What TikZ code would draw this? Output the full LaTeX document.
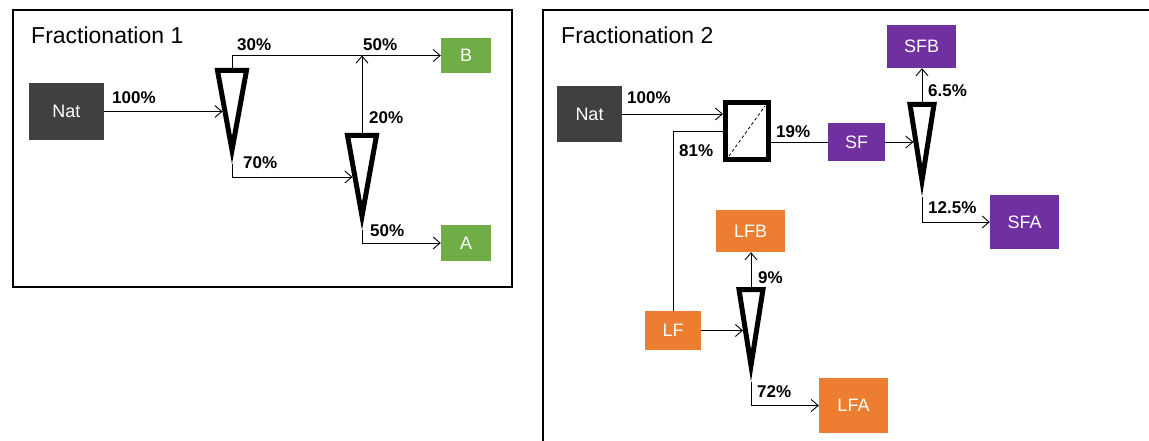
\documentclass[tikz,border=0pt]{standalone}
\usepackage{fontspec}
\setmainfont{Liberation Sans}
\usetikzlibrary{arrows.meta,calc}
\definecolor{natgray}{HTML}{404040}
\definecolor{fgreen}{HTML}{70AD47}
\definecolor{fpurple}{HTML}{7030A0}
\definecolor{forange}{HTML}{ED7D31}
\tikzset{
  box/.style={fill=#1, text=white, inner sep=0pt, font=\fontsize{18}{18}\selectfont},
  pct/.style={anchor=base west, inner sep=0pt, font=\fontsize{17}{17}\selectfont\bfseries},
  ttl/.style={anchor=base west, inner sep=0pt, font=\fontsize{23}{23}\selectfont},
  arr/.style={line width=0.9pt, -{Straight Barb[length=7pt,width=12pt,line width=0.9pt]}},
  ln/.style={line width=0.9pt},
  tri/.style={line width=5pt, line join=miter},
  frame/.style={line width=2pt}
}
\begin{document}
\begin{tikzpicture}[x=1pt,y=-1pt]
\useasboundingbox (0,0) rectangle (1149,441);
% frames
\draw[frame] (13,10) rectangle (512,287);
\draw[frame] (543,441) -- (543,10) -- (1150,10);
\node[ttl] (t1) at (31,44) {Fractionation 1};
\node[ttl] (t2) at (561,44) {Fractionation 2};

% ---------- Fractionation 1 ----------
\node[box=natgray, minimum width=75pt, minimum height=57pt] (nat1) at (66.5,111.5) {Nat};
\node[box=fgreen, minimum width=50pt, minimum height=35pt] (B) at (466,55.5) {B};
\node[box=fgreen, minimum width=50pt, minimum height=36pt] (A) at (466,243) {A};

\draw[tri] (217.5,70.5) -- (246.5,70.5) -- (232,150) -- cycle;
\coordinate (T1-top) at (232,68);
\coordinate (T1-tip) at (232,164);
\coordinate (T1-in) at (222.5,111.5);
\draw[tri] (347.5,135.5) -- (376.5,135.5) -- (362,216) -- cycle;
\coordinate (T2-top) at (362,133);
\coordinate (T2-tip) at (362,230);
\coordinate (T2-in) at (352.5,177);

\draw[arr] (nat1.east) -- (nat1.east -| T1-in);
\draw[arr] (T1-top) |- (B.west);
\draw[arr] (T2-top) -- (T2-top |- B.west);
\draw[arr] (T1-tip) |- (T2-in);
\draw[arr] (T2-tip) |- (A.west);

\node[pct] (p100a) at (112,104) {100\%};
\node[pct] (p30) at (237,51) {30\%};
\node[pct] (p50a) at (363,51) {50\%};
\node[pct] (p20) at (369,124) {20\%};
\node[pct] (p70) at (243,168) {70\%};
\node[pct] (p50b) at (370,236) {50\%};

% ---------- Fractionation 2 ----------
\node[box=natgray, minimum width=65pt, minimum height=56pt] (nat2) at (589.5,114) {Nat};
\node[draw, line width=5pt, inner sep=0pt, minimum width=43pt, minimum height=57pt] (mem) at (747,131) {};
\draw[line width=0.8pt, dash pattern=on 3pt off 2.5pt] ($(mem.south west)+(6,-6)$) -- ($(mem.north east)+(-6,6)$);
\node[box=fpurple, minimum width=57pt, minimum height=38pt] (SF) at (856.5,142) {SF};
\node[box=fpurple, minimum width=69pt, minimum height=43pt] (SFB) at (921.5,46.5) {SFB};
\node[box=fpurple, minimum width=69pt, minimum height=54pt] (SFA) at (1024.5,222) {SFA};
\node[box=forange, minimum width=56pt, minimum height=39pt] (LF) at (673,330.5) {LF};
\node[box=forange, minimum width=69pt, minimum height=42pt] (LFB) at (750.5,231) {LFB};
\node[box=forange, minimum width=69pt, minimum height=55pt] (LFA) at (853.5,405.5) {LFA};

\draw[tri] (910,104.5) -- (934,104.5) -- (922,180.5) -- cycle;
\coordinate (T3-top) at (922,102);
\coordinate (T3-tip) at (922,197);
\coordinate (T3-in) at (913.4,142);
\draw[tri] (739,289.5) -- (763,289.5) -- (751,365.5) -- cycle;
\coordinate (T4-top) at (751,287);
\coordinate (T4-tip) at (751,381.5);
\coordinate (T4-in) at (743,330.5);

\draw[arr] (nat2.east) -- (nat2.east -| mem.west);
\draw[ln] (mem.west) -| (LF.north);
\draw[ln] (mem.east |- SF.west) -- (SF.west);
\draw[arr] (SF.east) -- (SF.east -| T3-in);
\draw[arr] (T3-top) -- (T3-top |- SFB.south);
\draw[arr] (T3-tip) |- (SFA.west);
\draw[arr] (LF.east) -- (LF.east -| T4-in);
\draw[arr] (T4-top) -- (T4-top |- LFB.south);
\draw[arr] (T4-tip) |- (LFA.west);

\node[pct] (p100b) at (627,104) {100\%};
\node[pct] (p81) at (679,157) {81\%};
\node[pct] (p19) at (776,138) {19\%};
\node[pct] (p65) at (928,97) {6.5\%};
\node[pct] (p125) at (928,213) {12.5\%};
\node[pct] (p9) at (758,283) {9\%};
\node[pct] (p72) at (757,397) {72\%};
\end{tikzpicture}
\end{document}
